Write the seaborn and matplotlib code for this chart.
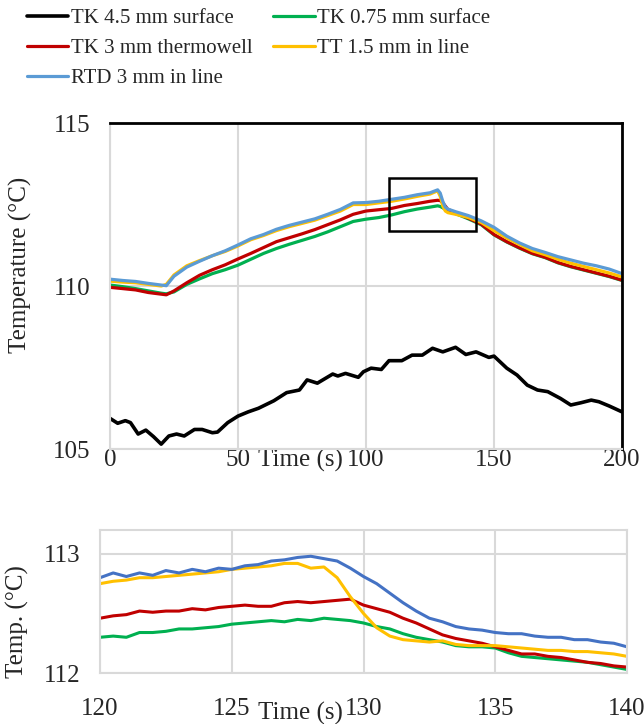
import numpy as np
import pandas as pd
import seaborn as sns
import matplotlib.pyplot as plt
from matplotlib.patches import Rectangle

# 图例名称与颜色
names = ['TK 4.5 mm surface', 'TK 3 mm thermowell', 'RTD 3 mm in line',
         'TK 0.75 mm surface', 'TT 1.5 mm in line']

# 上图：0-200 s 全程
t_black = [0, 3, 6, 8, 11, 14, 17, 20, 23, 26, 29, 33, 36, 40, 42, 46, 50, 54, 58, 64,
           69, 74, 77, 81, 87, 89, 92, 97, 99, 102, 106, 109, 114, 118, 122, 126, 130, 135, 139, 143,
           148, 150, 155, 159, 163, 167, 171, 176, 180, 184, 188, 191, 195, 200]
tk45 = [105.94, 105.79, 105.87, 105.81, 105.46, 105.58, 105.38, 105.15, 105.4, 105.46,
        105.4, 105.6, 105.6, 105.5, 105.52, 105.81, 106.01, 106.14, 106.25, 106.48,
        106.73, 106.81, 107.12, 107.02, 107.3, 107.24, 107.32, 107.2, 107.37, 107.48,
        107.44, 107.71, 107.71, 107.88, 107.88, 108.09, 107.98, 108.12, 107.9, 107.98,
        107.81, 107.85, 107.48, 107.27, 106.96, 106.81, 106.76, 106.55, 106.35, 106.42,
        106.5, 106.45, 106.32, 106.14]

t_top = [0, 5, 10, 15, 20, 22, 25, 30, 35, 40, 45, 50, 55, 60, 65, 70, 75, 80, 85, 90,
         95, 100, 105, 110, 115, 120, 125, 128, 129, 130, 131, 132, 135, 140, 145, 150, 155, 160, 165, 170,
         175, 180, 185, 190, 195, 200]
rtd_top = [110.21, 110.17, 110.14, 110.08, 110.03, 110.01, 110.3, 110.58, 110.76, 110.93,
           111.08, 111.26, 111.45, 111.58, 111.74, 111.86, 111.96, 112.06, 112.2, 112.35,
           112.55, 112.56, 112.6, 112.66, 112.72, 112.8, 112.86, 112.95, 112.85, 112.6,
           112.42, 112.36, 112.28, 112.16, 112.0, 111.8, 111.53, 111.32, 111.15, 111.03,
           110.9, 110.8, 110.7, 110.62, 110.52, 110.38]
tt_top = [110.15, 110.12, 110.1, 110.05, 110.0, 110.05, 110.34, 110.62, 110.78, 110.93,
          111.06, 111.23, 111.42, 111.55, 111.7, 111.82, 111.92, 112.02, 112.16, 112.3,
          112.5, 112.5, 112.55, 112.6, 112.67, 112.75, 112.82, 112.92, 112.75, 112.45,
          112.3, 112.25, 112.2, 112.1, 111.95, 111.7, 111.47, 111.27, 111.08, 110.96,
          110.82, 110.7, 110.6, 110.5, 110.4, 110.28]
tk3_top = [109.96, 109.92, 109.88, 109.8, 109.75, 109.73, 109.85, 110.1, 110.33, 110.5,
           110.65, 110.83, 111.0, 111.18, 111.36, 111.48, 111.6, 111.73, 111.88, 112.03,
           112.2, 112.3, 112.34, 112.38, 112.47, 112.53, 112.6, 112.63, 112.62, 112.55,
           112.45, 112.35, 112.25, 112.08, 111.9, 111.58, 111.36, 111.17, 111.0, 110.88,
           110.72, 110.6, 110.5, 110.4, 110.3, 110.18]
tk075_top = [110.03, 109.98, 109.92, 109.85, 109.78, 109.76, 109.82, 110.05, 110.22, 110.38,
             110.5, 110.64, 110.82, 111.0, 111.15, 111.28, 111.4, 111.52, 111.66, 111.82,
             111.98, 112.05, 112.1, 112.18, 112.28, 112.36, 112.42, 112.46, 112.44, 112.4,
             112.35, 112.3, 112.22, 112.06, 111.88, 111.57, 111.35, 111.16, 110.99, 110.87,
             110.71, 110.59, 110.49, 110.39, 110.29, 110.17]

# 放大框（上图中的黑框）
zoom_box = [109, 143, 111.7, 113.3]

# 下图：120-140 s 放大
t_zoom = [120, 120.5, 121, 121.5, 122, 122.5, 123, 123.5, 124, 124.5, 125, 125.5, 126, 126.5,
          127, 127.5, 128, 128.5, 129, 129.5, 130, 130.5, 131, 131.5, 132, 132.5, 133, 133.5,
          134, 134.5, 135, 135.5, 136, 136.5, 137, 137.5, 138, 138.5, 139, 139.5, 140]
rtd_zoom = [112.80, 112.84, 112.81, 112.84, 112.82, 112.86, 112.84, 112.87, 112.85, 112.88,
            112.87, 112.90, 112.91, 112.94, 112.95, 112.97, 112.98, 112.96, 112.94, 112.88,
            112.81, 112.75, 112.67, 112.59, 112.52, 112.46, 112.43, 112.39, 112.37, 112.36,
            112.34, 112.33, 112.33, 112.31, 112.30, 112.30, 112.28, 112.28, 112.26, 112.25, 112.22]
tt_zoom = [112.75, 112.77, 112.78, 112.80, 112.80, 112.81, 112.82, 112.83, 112.84, 112.85,
           112.87, 112.88, 112.89, 112.90, 112.92, 112.92, 112.88, 112.89, 112.80, 112.64,
           112.50, 112.38, 112.31, 112.28, 112.27, 112.26, 112.27, 112.24, 112.23, 112.23,
           112.23, 112.22, 112.21, 112.20, 112.19, 112.19, 112.18, 112.18, 112.17, 112.16, 112.14]
tk3_zoom = [112.46, 112.48, 112.49, 112.52, 112.51, 112.52, 112.52, 112.54, 112.53, 112.55,
            112.56, 112.57, 112.56, 112.56, 112.59, 112.60, 112.59, 112.60, 112.61, 112.62,
            112.57, 112.54, 112.51, 112.46, 112.42, 112.37, 112.32, 112.29, 112.27, 112.25,
            112.22, 112.19, 112.16, 112.16, 112.14, 112.13, 112.11, 112.09, 112.08, 112.06, 112.05]
tk075_zoom = [112.30, 112.31, 112.30, 112.34, 112.34, 112.35, 112.37, 112.37, 112.38, 112.39,
              112.41, 112.42, 112.43, 112.44, 112.43, 112.45, 112.44, 112.46, 112.45, 112.44,
              112.42, 112.39, 112.37, 112.33, 112.30, 112.28, 112.26, 112.23, 112.22, 112.22,
              112.21, 112.17, 112.14, 112.13, 112.12, 112.11, 112.10, 112.09, 112.07, 112.05, 112.03]

sns.set_style('white')
plt.rcParams['font.family'] = ['Liberation Serif', 'DejaVu Serif']
plt.rcParams['font.size'] = 18

grid_c = '#d9d9d9'
c_black, c_red, c_green, c_yellow = '#000000', '#c00000', '#00b050', '#ffc000'
c_blue_top, c_blue_zoom = '#5b9bd5', '#4472c4'

fig = plt.figure(figsize=(6.44, 7.24), dpi=100)
ax1 = fig.add_axes([0.1708, 0.3798, 0.7950, 0.4503])
ax2 = fig.add_axes([0.1553, 0.0704, 0.8183, 0.1975])

# ---- 上图 ----
sns.lineplot(x=t_black, y=tk45, color=c_black, lw=2.6, ax=ax1, label=names[0])
sns.lineplot(x=t_top, y=tk075_top, color=c_green, lw=2.3, ax=ax1, label=names[3])
sns.lineplot(x=t_top, y=tk3_top, color=c_red, lw=2.3, ax=ax1, label=names[1])
sns.lineplot(x=t_top, y=tt_top, color=c_yellow, lw=2.3, ax=ax1, label=names[4])
sns.lineplot(x=t_top, y=rtd_top, color=c_blue_top, lw=2.3, ax=ax1, label=names[2])
ax1.add_patch(Rectangle((zoom_box[0], zoom_box[2]), zoom_box[1] - zoom_box[0],
                        zoom_box[3] - zoom_box[2], fill=False, ec='black', lw=1.8, zorder=5))
ax1.set_xlim(0, 200)
ax1.set_ylim(105, 115)
ax1.set_xticks([0, 50, 100, 150, 200])
ax1.set_yticks([105, 110, 115])
ax1.grid(True, color=grid_c, lw=1.5)
ax1.tick_params(length=0, pad=0)
ax1.tick_params(axis='y', pad=14)
for s in ['left', 'bottom']:
    ax1.spines[s].set_color(grid_c)
    ax1.spines[s].set_linewidth(1.5)
for s in ['top', 'right']:
    ax1.spines[s].set_color('black')
    ax1.spines[s].set_linewidth(2)
ax1.set_xlabel('Time (s)')
ax1.xaxis.set_label_coords(0.371, -0.035)
ax1.xaxis.label.set_va('center')
ax1.set_ylabel('Temperature (°C)')
ax1.yaxis.set_label_coords(-0.174, 0.564)
ax1.yaxis.label.set_va('center')

handles, labels = ax1.get_legend_handles_labels()
ax1.get_legend().remove()
order = [labels.index(n) for n in names]
fig.legend([handles[i] for i in order], [labels[i] for i in order], ncol=2,
           loc='upper left', bbox_to_anchor=(0.019, 1.008), frameon=False, fontsize=15,
           handlelength=2.0, handletextpad=0.1, labelspacing=0.5, columnspacing=1.0,
           borderpad=0.2)

# ---- 下图 ----
sns.lineplot(x=t_zoom, y=tk075_zoom, color=c_green, lw=2.2, ax=ax2)
sns.lineplot(x=t_zoom, y=tk3_zoom, color=c_red, lw=2.2, ax=ax2)
sns.lineplot(x=t_zoom, y=tt_zoom, color=c_yellow, lw=2.2, ax=ax2)
sns.lineplot(x=t_zoom, y=rtd_zoom, color=c_blue_zoom, lw=2.2, ax=ax2)
ax2.set_xlim(120, 140)
ax2.set_ylim(112, 113.2)
ax2.set_xticks([120, 125, 130, 135, 140])
ax2.set_yticks([112, 113])
ax2.grid(True, color=grid_c, lw=1.5)
ax2.tick_params(length=0)
ax2.tick_params(axis='x', pad=18)
ax2.tick_params(axis='y', pad=14)
for s in ax2.spines.values():
    s.set_color(grid_c)
    s.set_linewidth(1.5)
ax2.set_xlabel('Time (s)')
ax2.xaxis.set_label_coords(0.38, -0.28)
ax2.xaxis.label.set_va('center')
ax2.set_ylabel('Temp. (°C)')
ax2.yaxis.set_label_coords(-0.156, 0.36)
ax2.yaxis.label.set_va('center')

fig.savefig('out.png', dpi=100)
